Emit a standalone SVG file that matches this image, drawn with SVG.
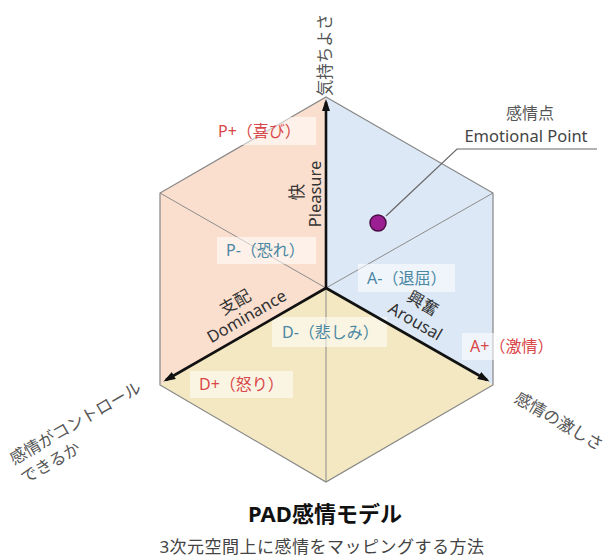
<svg xmlns="http://www.w3.org/2000/svg" width="607" height="557" viewBox="0 0 607 557">
  <defs>
    <style>
      text { font-family: "Noto Sans", "Noto Sans CJK JP", sans-serif; }
      .face-p { fill: #fadfcf; }
      .face-a { fill: #dce8f5; }
      .face-d { fill: #f3e8c2; }
      .edge { fill: none; stroke: #858585; stroke-width: 1.2; }
      .inner { fill: none; stroke: #8c8c8c; stroke-width: 1; }
      .axis { fill: none; stroke: #111; stroke-width: 2.6; marker-end: url(#arrow); }
      .box { fill: #ffffff; fill-opacity: 0.55; }
      .pos { fill: #d9474a; font-size: 16px; }
      .neg { fill: #4a87a3; font-size: 16px; }
      .axlbl { fill: #333; font-size: 16.5px; }
      .outer { fill: #555; font-size: 16.5px; }
      .leader { fill: none; stroke: #666; stroke-width: 1.2; }
    </style>
    <marker id="arrow" markerUnits="userSpaceOnUse" markerWidth="13" markerHeight="10" refX="9" refY="5" orient="auto">
      <path d="M0,1 L12,5 L0,9 Z" fill="#111"/>
    </marker>
  </defs>

  <g id="hexagon">
    <path class="face-p" d="M326,97 L160,193 L160,385 L326,288 Z"/>
    <path class="face-a" d="M326,97 L493,193 L493,385 L326,288 Z"/>
    <path class="face-d" d="M326,288 L160,385 L326,482 L493,385 Z"/>
    <path class="inner" d="M160,193 L326,288 M493,193 L326,288 M326,288 L326,482"/>
    <path class="edge" d="M326,97 L493,193 L493,385 L326,482 L160,385 L160,193 Z"/>
  </g>

  <g id="label-p-plus">
    <rect class="box" x="210" y="117" width="106" height="28"/>
    <text class="pos" x="218" y="137">P+（喜び）</text>
  </g>
  <g id="label-p-minus">
    <rect class="box" x="217" y="237" width="99" height="27"/>
    <text class="neg" x="226" y="256">P-（恐れ）</text>
  </g>
  <g id="label-a-minus">
    <rect class="box" x="358" y="264" width="97" height="28"/>
    <text class="neg" x="367" y="284">A-（退屈）</text>
  </g>
  <g id="label-d-minus">
    <rect class="box" x="272" y="317" width="115" height="30"/>
    <text class="neg" x="282" y="338">D-（悲しみ）</text>
  </g>
  <g id="label-d-plus">
    <rect class="box" x="190" y="371" width="103" height="27"/>
    <text class="pos" x="199" y="390">D+（怒り）</text>
  </g>
  <g id="label-a-plus">
    <rect class="box" x="462" y="333" width="95" height="27"/>
    <text class="pos" x="470" y="352">A+（激情）</text>
  </g>

  <g id="connectors">
    <path class="axis" d="M326,288 L326,102"/>
    <path class="axis" d="M326,288 L166,380"/>
    <path class="axis" d="M326,288 L487,380"/>
    <path class="leader" d="M386,216 L457,149 L597,149"/>
  </g>

  <g id="axis-pleasure">
    <text class="axlbl" text-anchor="middle" transform="translate(297,192) rotate(-90)" y="6">快</text>
    <text class="axlbl" text-anchor="middle" transform="translate(316,194) rotate(-90)" y="5">Pleasure</text>
  </g>
  <g id="axis-dominance">
    <text class="axlbl" text-anchor="middle" transform="translate(235,302) rotate(-30)" y="6">支配</text>
    <text class="axlbl" text-anchor="middle" transform="translate(247,317) rotate(-30)" y="5">Dominance</text>
  </g>
  <g id="axis-arousal">
    <text class="axlbl" text-anchor="middle" transform="translate(423,303) rotate(30)" y="6">興奮</text>
    <text class="axlbl" text-anchor="middle" transform="translate(415,322) rotate(30)" y="5">Arousal</text>
  </g>

  <g id="outer-pleasure">
    <text class="outer" text-anchor="middle" transform="translate(325,55) rotate(-90)" y="6">気持ちよさ</text>
  </g>
  <g id="outer-dominance">
    <text class="outer" transform="translate(11,460) rotate(-30)"><tspan x="0" y="6">感情がコントロール</tspan><tspan x="0" y="28">できるか</tspan></text>
  </g>
  <g id="outer-arousal">
    <text class="outer" text-anchor="middle" transform="translate(559,421) rotate(30)" y="6" font-size="16">感情の激しさ</text>
  </g>

  <g id="emotional-point">
    <circle cx="378" cy="223" r="8" fill="#9b1f93" stroke="#4a0d45" stroke-width="1.5"/>
    <text x="530" y="119" text-anchor="middle" fill="#555" font-size="16">感情点</text>
    <text x="526" y="142" text-anchor="middle" fill="#444" font-size="16.5">Emotional Point</text>
  </g>

  <g id="title">
    <text x="325" y="522" text-anchor="middle" fill="#111" font-size="22" font-weight="bold">PAD感情モデル</text>
    <text x="322" y="553" text-anchor="middle" fill="#444" font-size="17" letter-spacing="0.5">3次元空間上に感情をマッピングする方法</text>
  </g>
</svg>
